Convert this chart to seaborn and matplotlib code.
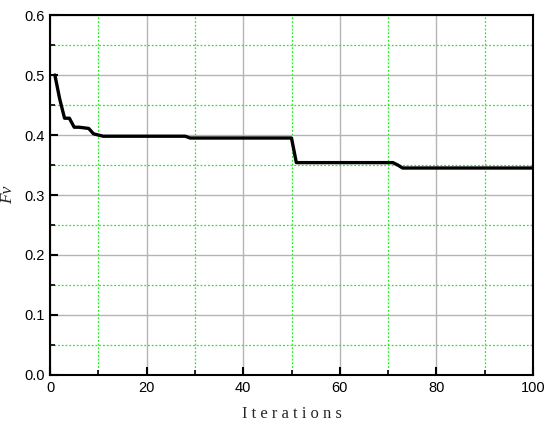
import matplotlib
matplotlib.use('Agg')
import matplotlib.pyplot as plt
import seaborn as sns
from matplotlib.ticker import MultipleLocator

# Breakpoints of the convergence curve (iteration, Fv)
iterations = [1, 2, 3, 4, 5, 6, 7, 8, 9, 10, 11, 28, 29, 50, 51, 71, 72, 73, 100]
fv = [0.500, 0.460, 0.428, 0.428, 0.413, 0.413, 0.412, 0.411, 0.402, 0.400,
      0.398, 0.398, 0.395, 0.395, 0.354, 0.354, 0.350, 0.345, 0.345]

sns.set_style('white')
plt.rcParams['font.family'] = ['Liberation Sans', 'DejaVu Sans']

fig = plt.figure(figsize=(5.5, 4.3), dpi=100)
ax = fig.add_axes([0.091, 0.128, 0.878, 0.837])

# Grid: solid gray on major, dotted green on minor
ax.set_xlim(0, 100)
ax.set_ylim(0, 0.6)
ax.xaxis.set_major_locator(MultipleLocator(20))
ax.xaxis.set_minor_locator(MultipleLocator(10))
ax.yaxis.set_major_locator(MultipleLocator(0.1))
ax.yaxis.set_minor_locator(MultipleLocator(0.05))
for axis in (ax.xaxis, ax.yaxis):
    axis.grid(True, which='major', color='#b4b4b4', linestyle='-', linewidth=1.0)
    axis.grid(True, which='minor', color='#22ee22', linestyle=(0, (1.5, 1.5)), linewidth=0.9)
ax.set_axisbelow(True)

sns.lineplot(x=iterations, y=fv, ax=ax, color='black', linewidth=2.4)

ax.set_yticks([0.0, 0.1, 0.2, 0.3, 0.4, 0.5, 0.6])
ax.set_yticklabels(['0.0', '0.1', '0.2', '0.3', '0.4', '0.5', '0.6'])

for s in ax.spines.values():
    s.set_color('black')
    s.set_linewidth(1.5)

ax.tick_params(which='major', direction='in', length=6, width=1.5,
               labelsize=10.5, colors='black', bottom=True, left=True,
               top=False, right=False, pad=4)
ax.tick_params(which='minor', direction='in', length=3.5, width=1.2,
               colors='black', bottom=True, left=True, top=False, right=False)

ax.set_xlabel('I t e r a t i o n s', family='Liberation Serif', fontsize=12, labelpad=8)
ax.set_ylabel('Fv', family='Liberation Serif', style='italic', fontsize=12.5, labelpad=6)

fig.savefig('out.png', dpi=100)
